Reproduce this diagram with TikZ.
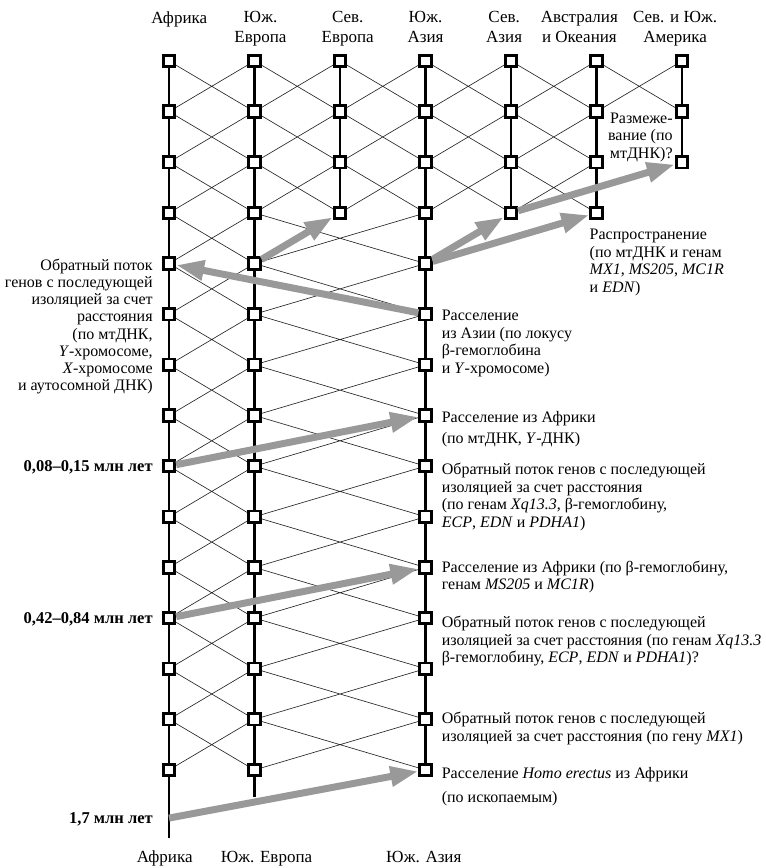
\documentclass[tikz,border=0pt]{standalone}
\usepackage{fontspec}
\setmainfont{Liberation Serif}
\usepackage{tikz}
\usetikzlibrary{positioning,backgrounds,arrows.meta}

\tikzset{
  sq/.style={rectangle, draw, fill=white, line width=2.8pt, minimum size=11.5pt, inner sep=0pt},
  col/.style={line width=2.4pt},
  link/.style={line width=0.65pt, black!85},
  flow/.style={line width=7pt, black!40, -{Triangle[length=28pt,width=19pt]}},
  head/.style={font=\fontsize{17}{20}\selectfont, align=center, anchor=north, inner sep=0pt},
  note/.style={font=\fontsize{16}{17.5}\selectfont, align=left, anchor=north west, inner sep=0pt},
  lnote/.style={font=\fontsize{16}{17.2}\selectfont, align=right, anchor=north east, inner sep=0pt},
  age/.style={font=\bfseries\fontsize{16.5}{18}\selectfont, anchor=base east, inner sep=0pt},
}

\begin{document}
\begin{tikzpicture}[x=85.5pt, y=-50.64pt]
\useasboundingbox (-1.9766,-1.2046) rectangle (6.9825,15.936);

% boxes: name/column/last row
\foreach \n/\c/\l in {af/0/14, ue/1/14, se/2/3, ua/3/14, sa/4/3, au/5/3, am/6/2}
  \foreach \r in {0,...,\l}
    \node[sq] (\n\r) at (\c,\r) {};

\coordinate (afend) at (0,15.34);
\coordinate (ueend) at (1,14.53);
\coordinate (afx) at (0,14.95);

\begin{pgfonlayer}{background}
  \draw[col] (af0.center) -- (afend);
  \draw[col] (ue0.center) -- (ueend);
  \foreach \n/\l in {se/3, ua/14, sa/3, au/3, am/2}
    \draw[col] (\n0.center) -- (\n\l.center);
  % gene flow between neighbours
  \foreach \a/\b/\i/\j in {af/ue/0/13, ue/se/0/2, se/ua/0/2, ua/sa/0/2, sa/au/0/2, au/am/0/0, ue/ua/3/13}
    \foreach \r in {\i,...,\j} {
      \pgfmathtruncatemacro{\s}{\r+1}
      \draw[link] (\a\r.center) -- (\b\s.center) (\a\s.center) -- (\b\r.center);
    }
\end{pgfonlayer}

% migrations
\draw[flow] (ue4) -- (se3);
\draw[flow] (ua5) -- (af4);
\draw[flow] (ua4) -- (sa3);
\draw[flow] (ua4) -- (au3);
\draw[flow] (sa3) -- (am2);
\draw[flow] (af8) -- (ua7);
\draw[flow] (af11) -- (ua10);
\draw[flow] (afx) -- (ua14);

% regions
\node[head] (haf) at (0.12,-0.977) {Африка};
\node[head] (hue) at (1.07,-0.977) {Юж.\\Европа};
\node[head] (hse) at (2.09,-0.977) {Сев.\\Европа};
\node[head] (hua) at (3,-0.977) {Юж.\\Азия};
\node[head] (hsa) at (3.92,-0.977) {Сев.\\Азия};
\node[head] (hau) at (4.8,-0.977) {Австралия\\и Океания};
\node[head] (ham) at (5.92,-0.977) {Сев. и Юж.\\Америка};
\node[head, anchor=base] (baf) at (-0.05,15.837) {Африка};
\node[head, anchor=base] (bue) at (1.14,15.837) {Юж. Европа};
\node[head, anchor=base] (bua) at (2.98,15.837) {Юж. Азия};

% notes
\node[left=2pt of am1, note, anchor=north east, align=right, yshift=-1pt] (nsplit) {Размеже-\\вание (по\\мтДНК)?};
\node[below=8.8pt of au3, note, xshift=-7pt] (nspread) {Распространение\\(по мтДНК и генам\\\textit{MX1}, \textit{MS205}, \textit{MC1R}\\и \textit{EDN})};
\node[left=9pt of af4, lnote, yshift=5pt] (nback) {Обратный поток\\генов с последующей\\изоляцией за счет\\расстояния\\(по мтДНК,\\\textit{Y}-хромосоме,\\\textit{X}-хромосоме\\и аутосомной ДНК)};
\node[right=9pt of ua5, note, yshift=4pt] (nasia) {Расселение\\из Азии (по локусу\\β-гемоглобина\\и \textit{Y}-хромосоме)};
\node[right=9pt of ua7, note, yshift=4pt] (nout1) {Расселение из Африки\\[3.5pt](по мтДНК, \textit{Y}-ДНК)};
\node[right=9pt of ua8, note, yshift=3pt] (nback1) {Обратный поток генов с последующей\\изоляцией за счет расстояния\\(по генам \textit{Xq13.3}, β-гемоглобину,\\\textit{ECP}, \textit{EDN} и \textit{PDHA1})};
\node[right=9pt of ua10, note, yshift=7pt] (nout2) {Расселение из Африки (по β-гемоглобину,\\генам \textit{MS205} и \textit{MC1R})};
\node[right=9pt of ua11, note, yshift=2pt] (nback2) {Обратный поток генов с последующей\\изоляцией за счет расстояния (по генам \textit{Xq13.3}\\β-гемоглобину, \textit{ECP}, \textit{EDN} и \textit{PDHA1})?};
\node[right=9pt of ua13, note, yshift=7pt] (nback3) {Обратный поток генов с последующей\\изоляцией за счет расстояния (по гену \textit{MX1})};
\node[right=9pt of ua14, note, yshift=3pt] (nout3) {Расселение \textit{Homo erectus} из Африки\\[6.5pt](по ископаемым)};

% ages
\node[left=9pt of af8, age, yshift=-5pt] (t1) {0,08–0,15 млн лет};
\node[left=9pt of af11, age, yshift=-5pt] (t2) {0,42–0,84 млн лет};
\node[left=16pt of afx, age, yshift=-5pt] (t3) {1,7 млн лет};
\end{tikzpicture}
\end{document}
